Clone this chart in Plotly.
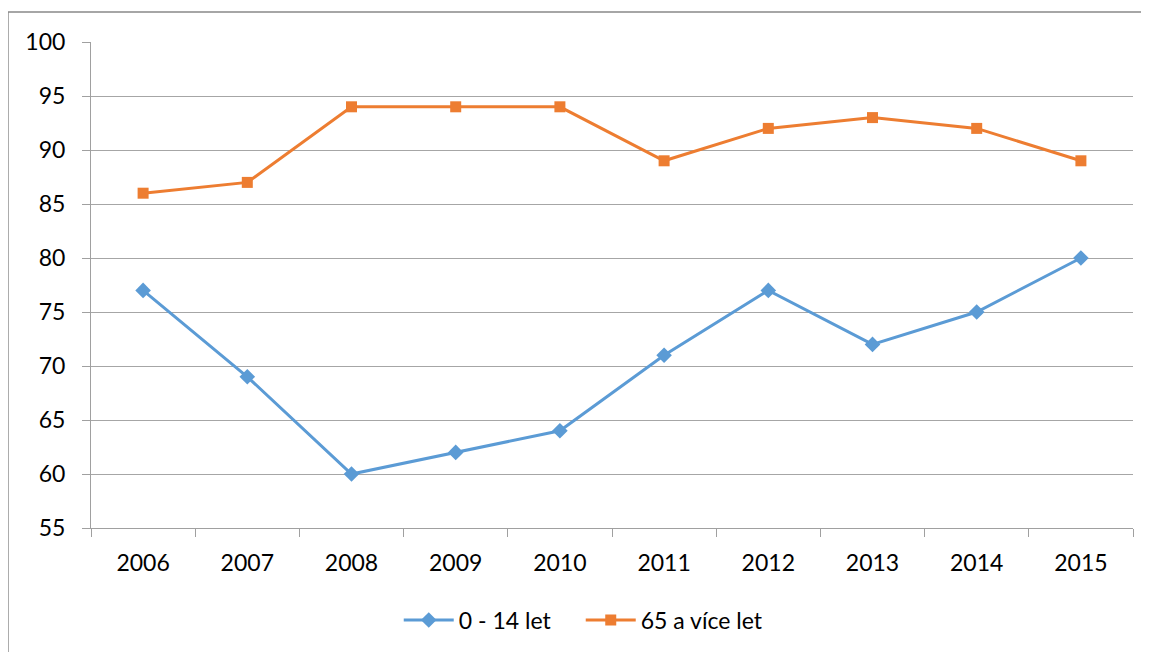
import plotly.graph_objects as go

years = ["2006", "2007", "2008", "2009", "2010", "2011", "2012", "2013", "2014", "2015"]
kids = [77, 69, 60, 62, 64, 71, 77, 72, 75, 80]
seniors = [86, 87, 94, 94, 94, 89, 92, 93, 92, 89]
y_ticks = [55, 60, 65, 70, 75, 80, 85, 90, 95, 100]

fig = go.Figure()
fig.add_trace(go.Scatter(x=years, y=kids, name="0 - 14 let", mode="lines+markers",
                         line=dict(color="#5B9BD5", width=3),
                         marker=dict(symbol="diamond", size=12, color="#5B9BD5")))
fig.add_trace(go.Scatter(x=years, y=seniors, name="65 a více let", mode="lines+markers",
                         line=dict(color="#ED7D31", width=3),
                         marker=dict(symbol="square", size=11, color="#ED7D31")))

border = dict(color="#888888", width=1.5)
fig.update_layout(
    width=1141, height=644,
    margin=dict(l=83, r=16, t=34, b=123),
    paper_bgcolor="white", plot_bgcolor="white",
    font=dict(family="Lato, Noto Sans, sans-serif", size=23, color="#000000"),
    showlegend=True,
    legend=dict(orientation="h", x=0.470, xanchor="center", y=-0.187, yanchor="middle",
                font=dict(size=23), itemwidth=50, entrywidth=117, entrywidthmode="pixels"),
    xaxis=dict(type="category", range=[-0.5, len(years) - 0.5],
               showline=True, linecolor="#a0a0a0", linewidth=1,
               ticks="outside", tickson="boundaries", ticklen=8, tickcolor="#a0a0a0",
               ticklabelstandoff=14,
               showgrid=False, zeroline=False),
    yaxis=dict(range=[55, 100], tickvals=y_ticks, showline=True, linecolor="#a0a0a0",
               linewidth=1, ticks="outside", ticklen=8, tickcolor="#a0a0a0",
               ticklabelstandoff=12,
               showgrid=True, gridcolor="#a6a6a6", gridwidth=1, zeroline=False),
    shapes=[
        dict(type="line", xref="paper", yref="paper", x0=-0.0797, x1=-0.0797,
             y0=-0.3, y1=1.0616, line=border, layer="below"),
        dict(type="line", xref="paper", yref="paper", x0=-0.0797, x1=1.1,
             y0=1.0616, y1=1.0616, line=border, layer="below"),
    ],
)

fig.write_html("out.html")
